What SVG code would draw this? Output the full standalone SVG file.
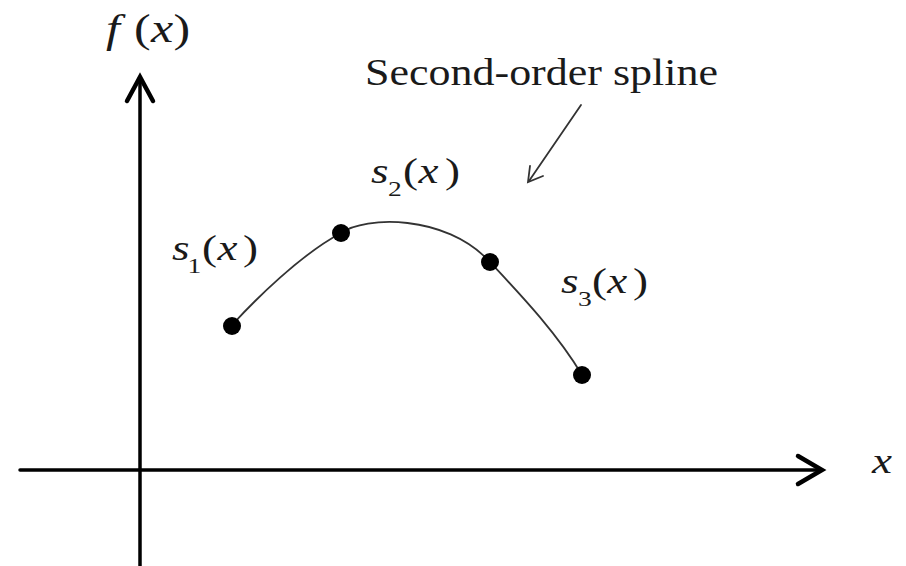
<svg xmlns="http://www.w3.org/2000/svg" width="906" height="566" viewBox="0 0 906 566">
<style>
.ax{stroke:#000;stroke-width:3.5;fill:none;stroke-linecap:round;stroke-linejoin:miter}
.head{stroke:#000;stroke-width:4.5;fill:none;stroke-linecap:round;stroke-linejoin:miter}
.crv{stroke:#333;stroke-width:1.8;fill:none}
.ptr{stroke:#333;stroke-width:1.8;fill:none;stroke-linecap:round}
.dot{fill:#000}
.t{fill:#1a1a1a}
.it{font-style:italic}
</style>
<rect width="906" height="566" fill="#fff"/>
<g id="connectors">
<line class="ax" x1="20" y1="470" x2="820" y2="470"/>
<polyline class="head" points="798,456 822,470 798,484"/>
<line class="ax" x1="140" y1="80" x2="140" y2="566"/>
<polyline class="head" points="127,101 140,77 153,101"/>
<path class="crv" d="M232,325 C255,300 300,255 341,233 C365,216 445,214 489,261 C515,289 555,330 582,375"/>
<line class="ptr" x1="581" y1="105" x2="529" y2="181"/>
<polyline class="ptr" points="530,166 528,182 543,176"/>
</g>
<g id="p1"><circle class="dot" cx="232" cy="326" r="9"/></g>
<g id="p2"><circle class="dot" cx="341" cy="233" r="9"/></g>
<g id="p3"><circle class="dot" cx="490" cy="262" r="9"/></g>
<g id="p4"><circle class="dot" cx="582" cy="375" r="9"/></g>
<g id="label-fx" transform="translate(106,42) scale(1.25,1)">
<text class="t" font-family="'Liberation Serif', 'Times New Roman', serif" font-size="40"><tspan class="it" x="0" y="0">f</tspan><tspan x="22.4" y="0">(</tspan><tspan class="it" x="36" y="0">x</tspan><tspan x="54" y="0">)</tspan></text>
</g>
<g id="label-x" transform="translate(872,473) scale(1.25,1)">
<text class="t it" font-family="'Liberation Serif', 'Times New Roman', serif" font-size="36" x="0" y="0">x</text>
</g>
<g id="label-title">
<text class="t" font-family="'Liberation Serif', 'Times New Roman', serif" x="365" y="85" font-size="38" textLength="353" lengthAdjust="spacingAndGlyphs">Second-order spline</text>
</g>
<g id="label-s1" transform="translate(172,260) scale(1.25,1)">
<text class="t" font-family="'Liberation Serif', 'Times New Roman', serif" font-size="36"><tspan class="it" x="0" y="0">s</tspan><tspan x="12.4" y="13" font-size="22">1</tspan><tspan x="24" y="0">(</tspan><tspan class="it" x="36.5" y="0">x</tspan><tspan x="56.8" y="0">)</tspan></text>
</g>
<g id="label-s2" transform="translate(371,183) scale(1.25,1)">
<text class="t" font-family="'Liberation Serif', 'Times New Roman', serif" font-size="36"><tspan class="it" x="0" y="0">s</tspan><tspan x="13.6" y="13" font-size="22">2</tspan><tspan x="25.6" y="0">(</tspan><tspan class="it" x="38" y="0">x</tspan><tspan x="59.2" y="0">)</tspan></text>
</g>
<g id="label-s3" transform="translate(561,293) scale(1.25,1)">
<text class="t" font-family="'Liberation Serif', 'Times New Roman', serif" font-size="36"><tspan class="it" x="0" y="0">s</tspan><tspan x="13.6" y="13" font-size="22">3</tspan><tspan x="24.8" y="0">(</tspan><tspan class="it" x="37" y="0">x</tspan><tspan x="57.6" y="0">)</tspan></text>
</g>
</svg>
